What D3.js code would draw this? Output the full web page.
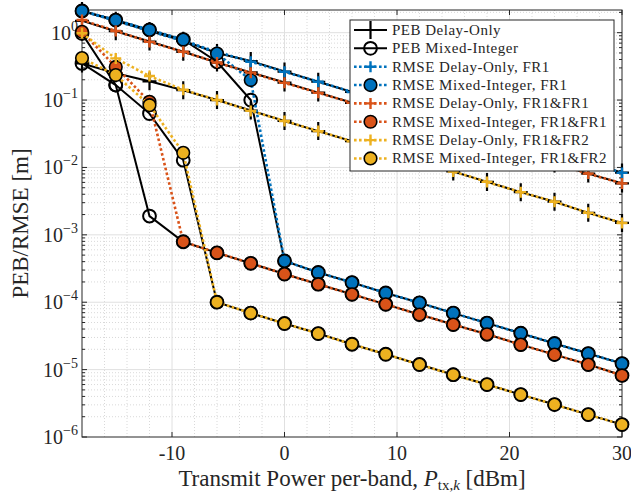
<!DOCTYPE html>
<html>
<head>
<meta charset="utf-8">
<script src="https://cdn.jsdelivr.net/npm/d3@7"></script>
<style>
body { margin: 0; background: #fff; }
svg text { font-family: "Liberation Serif", "Times New Roman", serif; fill: #262626; }
</style>
</head>
<body>
<svg id="chart" width="631" height="493"></svg>
<script>
// transmit power per band [dBm]
const power = [-18, -15, -12, -9, -6, -3, 0, 3, 6, 9, 12, 15, 18, 21, 24, 27, 30];

// PEB curves (black)
const pebDelayFR1     = [2.1, 1.5, 1.06, 0.76, 0.5, 0.38, 0.265, 0.187, 0.132, 0.094, 0.066, 0.047, 0.033, 0.0235, 0.0166, 0.0118, 0.0084];
const pebDelayFR1FR1  = [1.5, 1.05, 0.74, 0.52, 0.36, 0.257, 0.182, 0.129, 0.091, 0.064, 0.045, 0.032, 0.0227, 0.016, 0.0114, 0.0081, 0.0058];
const pebDelayFR1FR2  = [0.35, 0.25, 0.19, 0.14, 0.1, 0.07, 0.049, 0.0346, 0.0245, 0.0173, 0.0123, 0.0087, 0.0061, 0.0043, 0.0031, 0.00212, 0.0015];
const pebMixedFR1     = [2.1, 1.54, 1.1, 0.79, 0.37, 0.1, 4.1e-4, 2.76e-4, 1.96e-4, 1.37e-4, 9.8e-5, 6.9e-5, 4.9e-5, 3.47e-5, 2.44e-5, 1.73e-5, 1.23e-5];
const pebMixedFR1FR1  = [0.97, 0.167, 0.0019, 7.9e-4, 5.4e-4, 3.78e-4, 2.62e-4, 1.85e-4, 1.31e-4, 9.3e-5, 6.56e-5, 4.66e-5, 3.35e-5, 2.35e-5, 1.67e-5, 1.19e-5, 8.2e-6];
const pebMixedFR1FR2  = [0.35, 0.167, 0.063, 0.0128, 1.0e-4, 6.9e-5, 4.83e-5, 3.43e-5, 2.38e-5, 1.69e-5, 1.19e-5, 8.4e-6, 6.0e-6, 4.26e-6, 3.03e-6, 2.15e-6, 1.53e-6];

// RMSE curves (coloured, dotted)
const rmseDelayFR1    = [2.1, 1.5, 1.06, 0.75, 0.52, 0.37, 0.263, 0.187, 0.132, 0.094, 0.066, 0.047, 0.033, 0.0235, 0.0166, 0.0118, 0.0083];
const rmseMixedFR1    = [2.1, 1.54, 1.1, 0.79, 0.49, 0.198, 4.1e-4, 2.76e-4, 1.96e-4, 1.37e-4, 9.8e-5, 6.9e-5, 4.9e-5, 3.47e-5, 2.44e-5, 1.73e-5, 1.23e-5];
const rmseDelayFR1FR1 = [1.54, 1.06, 0.73, 0.52, 0.36, 0.255, 0.18, 0.128, 0.091, 0.064, 0.045, 0.032, 0.0227, 0.016, 0.0114, 0.0081, 0.0058];
const rmseMixedFR1FR1 = [1.03, 0.31, 0.094, 7.9e-4, 5.4e-4, 3.78e-4, 2.62e-4, 1.85e-4, 1.31e-4, 9.3e-5, 6.56e-5, 4.66e-5, 3.35e-5, 2.35e-5, 1.67e-5, 1.19e-5, 8.2e-6];
const rmseDelayFR1FR2 = [0.98, 0.415, 0.227, 0.142, 0.1, 0.069, 0.049, 0.0346, 0.0245, 0.0173, 0.0123, 0.0087, 0.0061, 0.0043, 0.0031, 0.00212, 0.0015];
const rmseMixedFR1FR2 = [0.42, 0.235, 0.084, 0.0165, 1.0e-4, 6.9e-5, 4.83e-5, 3.43e-5, 2.38e-5, 1.69e-5, 1.19e-5, 8.4e-6, 6.0e-6, 4.26e-6, 3.03e-6, 2.15e-6, 1.53e-6];

const xTicks = [-10, 0, 10, 20, 30];
const yExponents = [0, -1, -2, -3, -4, -5, -6];
const legendNames = ["PEB Delay-Only", "PEB Mixed-Integer", "RMSE Delay-Only, FR1", "RMSE Mixed-Integer, FR1",
  "RMSE Delay-Only, FR1&FR1", "RMSE Mixed-Integer, FR1&FR1", "RMSE Delay-Only, FR1&FR2", "RMSE Mixed-Integer, FR1&FR2"];

const blue = "#0072BD", orange = "#D95319", yellow = "#EDB120";

// styles: kind = peb-plus | peb-circle | rmse-plus | rmse-circle
const series = [
  { vals: pebDelayFR1, kind: "peb-plus", color: "#000" },
  { vals: pebDelayFR1FR1, kind: "peb-plus", color: "#000" },
  { vals: pebDelayFR1FR2, kind: "peb-plus", color: "#000" },
  { vals: pebMixedFR1, kind: "peb-circle", color: "#000" },
  { vals: pebMixedFR1FR1, kind: "peb-circle", color: "#000" },
  { vals: pebMixedFR1FR2, kind: "peb-circle", color: "#000" },
  { vals: rmseDelayFR1, kind: "rmse-plus", color: blue },
  { vals: rmseMixedFR1, kind: "rmse-circle", color: blue },
  { vals: rmseDelayFR1FR1, kind: "rmse-plus", color: orange },
  { vals: rmseMixedFR1FR1, kind: "rmse-circle", color: orange },
  { vals: rmseDelayFR1FR2, kind: "rmse-plus", color: yellow },
  { vals: rmseMixedFR1FR2, kind: "rmse-circle", color: yellow }
];
const legendKinds = [
  { kind: "peb-plus", color: "#000" }, { kind: "peb-circle", color: "#000" },
  { kind: "rmse-plus", color: blue }, { kind: "rmse-circle", color: blue },
  { kind: "rmse-plus", color: orange }, { kind: "rmse-circle", color: orange },
  { kind: "rmse-plus", color: yellow }, { kind: "rmse-circle", color: yellow }
];

const plotL = 82, plotR = 622, plotT = 10, plotB = 437;
const svg = d3.select("#chart");
const x = d3.scaleLinear().domain([-18, 30]).range([plotL, plotR]);
const y = d3.scaleLog().domain([1e-6, 2.17]).range([plotB, plotT]);

// grid
const grid = svg.append("g");
const minorX = d3.range(-16, 30, 2).filter(v => v % 10 !== 0);
const minorY = [];
yExponents.forEach(e => { for (let m = 2; m <= 9; m++) { const v = m * Math.pow(10, e); if (v <= 2.17) minorY.push(v); } });
grid.selectAll(".mx").data(minorX).join("line")
  .attr("x1", d => x(d)).attr("x2", d => x(d)).attr("y1", plotT).attr("y2", plotB)
  .attr("stroke", "#cfcfcf").attr("stroke-width", 0.8).attr("stroke-dasharray", "1,2");
grid.selectAll(".my").data(minorY).join("line")
  .attr("x1", plotL).attr("x2", plotR).attr("y1", d => y(d)).attr("y2", d => y(d))
  .attr("stroke", "#cfcfcf").attr("stroke-width", 0.8).attr("stroke-dasharray", "1,2");
grid.selectAll(".Mx").data(xTicks.slice(0, 4)).join("line")
  .attr("x1", d => x(d)).attr("x2", d => x(d)).attr("y1", plotT).attr("y2", plotB)
  .attr("stroke", "#e0e0e0").attr("stroke-width", 1);
grid.selectAll(".My").data(yExponents.slice(0, 6)).join("line")
  .attr("x1", plotL).attr("x2", plotR).attr("y1", d => y(Math.pow(10, d))).attr("y2", d => y(Math.pow(10, d)))
  .attr("stroke", "#e0e0e0").attr("stroke-width", 1);

// axes box and ticks
const ax = svg.append("g").attr("stroke", "#262626").attr("stroke-width", 1);
ax.append("rect").attr("x", plotL).attr("y", plotT).attr("width", plotR - plotL).attr("height", plotB - plotT).attr("fill", "none");
xTicks.forEach(v => {
  ax.append("line").attr("x1", x(v)).attr("x2", x(v)).attr("y1", plotB).attr("y2", plotB - 5);
  ax.append("line").attr("x1", x(v)).attr("x2", x(v)).attr("y1", plotT).attr("y2", plotT + 5);
});
yExponents.forEach(e => {
  const yy = y(Math.pow(10, e));
  ax.append("line").attr("x1", plotL).attr("x2", plotL + 5).attr("y1", yy).attr("y2", yy);
  ax.append("line").attr("x1", plotR).attr("x2", plotR - 5).attr("y1", yy).attr("y2", yy);
});
minorY.forEach(v => {
  ax.append("line").attr("x1", plotL).attr("x2", plotL + 3).attr("y1", y(v)).attr("y2", y(v));
  ax.append("line").attr("x1", plotR).attr("x2", plotR - 3).attr("y1", y(v)).attr("y2", y(v));
});

// tick labels
svg.append("g").selectAll("text").data(xTicks).join("text")
  .attr("x", d => x(d)).attr("y", plotB + 23).attr("text-anchor", "middle")
  .attr("font-size", 20).text(d => d);
const yl = svg.append("g").selectAll("text").data(yExponents).join("text")
  .attr("x", 78).attr("y", d => y(Math.pow(10, d)) + 7).attr("text-anchor", "end").attr("font-size", 20);
yl.append("tspan").text("10");
yl.append("tspan").attr("dy", -9).attr("font-size", 14).text(d => d === 0 ? "0" : "\u2212" + (-d));

// axis labels
const xl = svg.append("text").attr("x", (plotL + plotR) / 2).attr("y", 486).attr("text-anchor", "middle").attr("font-size", 23);
xl.append("tspan").text("Transmit Power per-band, ");
xl.append("tspan").attr("font-style", "italic").text("P");
xl.append("tspan").attr("dy", 4).attr("font-size", 15).text("tx,");
xl.append("tspan").attr("font-size", 15).attr("font-style", "italic").text("k");
xl.append("tspan").attr("dy", -4).text(" [dBm]");
svg.append("text").attr("transform", `translate(28,${(plotT + plotB) / 2}) rotate(-90)`)
  .attr("text-anchor", "middle").attr("font-size", 23).text("PEB/RMSE [m]");

// markers
function drawMarker(g, kind, color, cx, cy) {
  if (kind === "peb-plus") {
    g.append("path").attr("d", `M${cx - 7},${cy}H${cx + 7}M${cx},${cy - 9}V${cy + 9}`)
      .attr("stroke", "#000").attr("stroke-width", 2.2).attr("fill", "none");
  } else if (kind === "rmse-plus") {
    g.append("path").attr("d", `M${cx - 5.5},${cy}H${cx + 5.5}M${cx},${cy - 5.5}V${cy + 5.5}`)
      .attr("stroke", color).attr("stroke-width", 2.4).attr("fill", "none");
  } else if (kind === "peb-circle") {
    g.append("circle").attr("cx", cx).attr("cy", cy).attr("r", 6.4)
      .attr("fill", "none").attr("stroke", "#000").attr("stroke-width", 2);
  } else {
    g.append("circle").attr("cx", cx).attr("cy", cy).attr("r", 6.3)
      .attr("fill", color).attr("stroke", "#000").attr("stroke-width", 1.6);
  }
}
function lineStyle(sel, kind, color) {
  if (kind.startsWith("peb")) sel.attr("stroke", "#000").attr("stroke-width", 2);
  else sel.attr("stroke", color).attr("stroke-width", 2.6).attr("stroke-dasharray", "2.6,2.4");
}

svg.append("clipPath").attr("id", "clip").append("rect")
  .attr("x", plotL).attr("y", plotT).attr("width", plotR - plotL).attr("height", plotB - plotT);
const line = d3.line().x(d => x(d[0])).y(d => y(d[1]));
const plot = svg.append("g");
series.forEach(s => {
  const pts = power.map((p, i) => [p, s.vals[i]]);
  const g = plot.append("g");
  g.append("path").attr("d", line(pts)).attr("fill", "none").attr("clip-path", "url(#clip)")
    .call(lineStyle, s.kind, s.color);
  pts.forEach(p => drawMarker(g, s.kind, s.color, x(p[0]), y(p[1])));
});

// legend
const lg = svg.append("g");
lg.append("rect").attr("x", 350).attr("y", 20).attr("width", 264).attr("height", 151)
  .attr("fill", "#fff").attr("stroke", "#262626").attr("stroke-width", 1);
legendKinds.forEach((k, i) => {
  const ly = 30 + i * 18.35;
  lg.append("line").attr("x1", 354).attr("x2", 387).attr("y1", ly).attr("y2", ly).call(lineStyle, k.kind, k.color);
  drawMarker(lg, k.kind, k.color, 370.5, ly);
  lg.append("text").attr("x", 392).attr("y", ly + 5).attr("font-size", 15)
    .attr("letter-spacing", "0.5px").text(legendNames[i]);
});
</script>
</body>
</html>
